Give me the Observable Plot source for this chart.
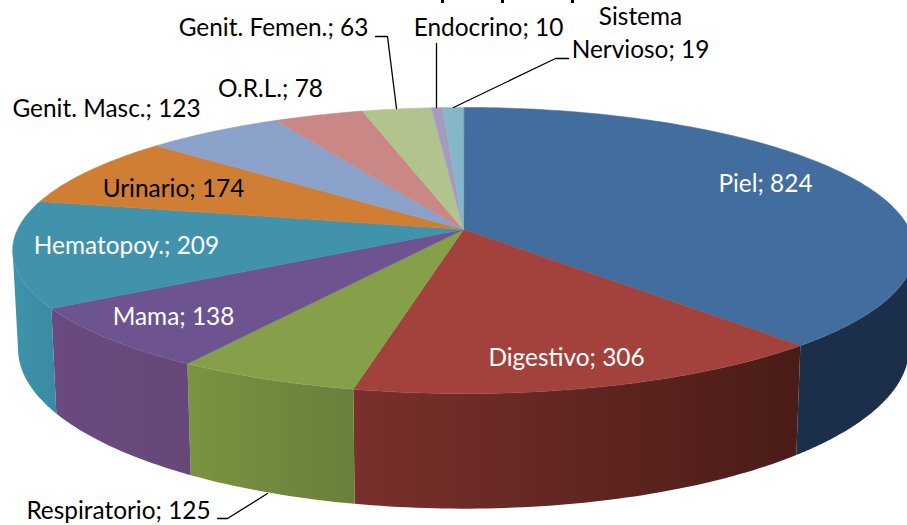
<!DOCTYPE html>
<html><head><meta charset="utf-8">
<style>html,body{margin:0;padding:0;background:#fff}svg{display:block}</style>
<script src="https://cdn.jsdelivr.net/npm/d3@7"></script>
<script src="https://cdn.jsdelivr.net/npm/@observablehq/plot@0.6"></script>
</head><body><div id="c"></div>
<script>
const names = ["Piel","Digestivo","Respiratorio","Mama","Hematopoy.","Urinario","Genit. Masc.","O.R.L.","Genit. Femen.","Endocrino","Sistema Nervioso"];
const counts = [824,306,125,138,209,174,123,78,63,10,19];
const topColors = ["#426d9f","#a3423c","#86a04a","#6e5391","#4193ab","#d17e35","#8aa1c9","#c98885","#b2c48d","#a59ac0","#86b6ca"];
const wallLeft = ["#1b2f4b","#4a1c17","#697f3c","#654878","#3a8aa3","#d17e35","#8aa1c9","#c98885","#b2c48d","#a59ac0","#86b6ca"];
const wallRight = ["#1b2f4b","#7a302c","#7a9440","#6a4a80","#3f93ab","#d17e35","#8aa1c9","#c98885","#b2c48d","#a59ac0","#86b6ca"];
const labelText = [["Piel; 824"],["Digestivo; 306"],["Respiratorio; 125"],["Mama; 138"],["Hematopoy.; 209"],["Urinario; 174"],["Genit. Masc.; 123"],["O.R.L.; 78"],["Genit. Femen.; 63"],["Endocrino; 10"],["Sistema","Nervioso; 19"]];
const labelColor = ["#fff","#fff","#000","#fff","#fff","#000","#000","#000","#000","#000","#000"];
const titleStems = [442,502,572];

// Projection of the tilted disc
const cx=463, cy=229, A=446, B=140, P=0.1468;
const warp = d3.scaleLinear().domain([0,143.4,196.6,218.4,242.4,278.7,309,330.4,344,360]).range([0,137.7,192.2,212.9,238.6,281.9,311,331.6,345,360]);
const total = d3.sum(counts);
const cum = d3.cumsum(counts);
const deg = v => warp(v/total*360);
const rim = d => { const t=d*Math.PI/180, D=1+P*Math.cos(t); return [cx+A*Math.sin(t)/D, cy-B*Math.cos(t)/D]; };
const low = ([x,y]) => [cx+(x-cx)*0.988, cy+95.7+(y-cy)*1.118];
const frontFrom = Math.acos(-P)*180/Math.PI, frontTo = 360-frontFrom;

const faces=[], walls=[];
counts.forEach((c,i)=>{
  const d0=i?deg(cum[i-1]):0, d1=deg(cum[i]);
  const n=Math.max(2,Math.ceil(d1-d0));
  faces.push({s:i,x:cx,y:cy,fill:topColors[i]});
  for(let k=0;k<=n;k++){
    const [x,y]=rim(d0+(d1-d0)*k/n);
    faces.push({s:i,x,y,fill:topColors[i]});
  }
  const w0=Math.max(d0,frontFrom), w1=Math.min(d1,frontTo);
  if(w1>w0){
    const top=d3.range(n+1).map(k=>rim(w0+(w1-w0)*k/n));
    [...top,...top.map(low).reverse()].forEach(([x,y])=>walls.push({s:i,x,y,fill:`url(#wall${i})`}));
  }
});
const labels=[
 {i:0,x:765,y:184},{i:1,x:566,y:358},{i:2,x:118,y:511},
 {i:3,x:173,y:317},{i:4,x:126,y:246},{i:5,x:173,y:189},
 {i:6,x:106,y:109},{i:7,x:270,y:89},{i:8,x:273,y:28},
 {i:9,x:488,y:28},{i:10,x:640,y:17},{i:10,x:640,y:50,line:1}
].map(d=>({...d,text:labelText[d.i][d.line||0],color:labelColor[d.i]}));
const leaders=[
 {k:"gf",x:375,y:36},{k:"gf",x:387,y:36},{k:"gf",x:396,y:108},
 {k:"en",x:436,y:43},{k:"en",x:436,y:107},
 {k:"sn",x:568,y:58},{k:"sn",x:555,y:58},{k:"sn",x:453,y:107},
 {k:"re",x:217,y:518},{k:"re",x:227,y:518},{k:"re",x:267,y:493}
];
const gradients=()=>{
  const defs=d3.create("svg:defs");
  counts.forEach((c,i)=>{
    const g=defs.append("linearGradient").attr("id",`wall${i}`);
    g.append("stop").attr("offset",0).attr("stop-color",wallRight[i]);
    g.append("stop").attr("offset",1).attr("stop-color",wallLeft[i]);
  });
  return defs.node();
};
const plot=Plot.plot({
  width:907,height:525,margin:0,
  x:{domain:[0,907],range:[0,907],axis:null},
  y:{domain:[0,525],range:[0,525],axis:null},
  color:{type:"identity"},
  style:{background:"#fff"},
  marks:[
    gradients,
    Plot.ruleX(titleStems,{y1:0,y2:3,stroke:"#000",strokeWidth:3}),
    Plot.line(walls,{x:"x",y:"y",z:"s",fill:"fill",stroke:"none",curve:"linear-closed"}),
    Plot.line(faces,{x:"x",y:"y",z:"s",fill:"fill",stroke:"fill",strokeWidth:0.5,curve:"linear-closed"}),
    Plot.line(leaders,{x:"x",y:"y",z:"k",stroke:"#000",strokeWidth:1.3}),
    Plot.text(labels,{x:"x",y:"y",text:"text",fill:"color",fontSize:24.4,fontFamily:"Lato"})
  ]
});
document.getElementById("c").append(plot);
</script></body></html>
